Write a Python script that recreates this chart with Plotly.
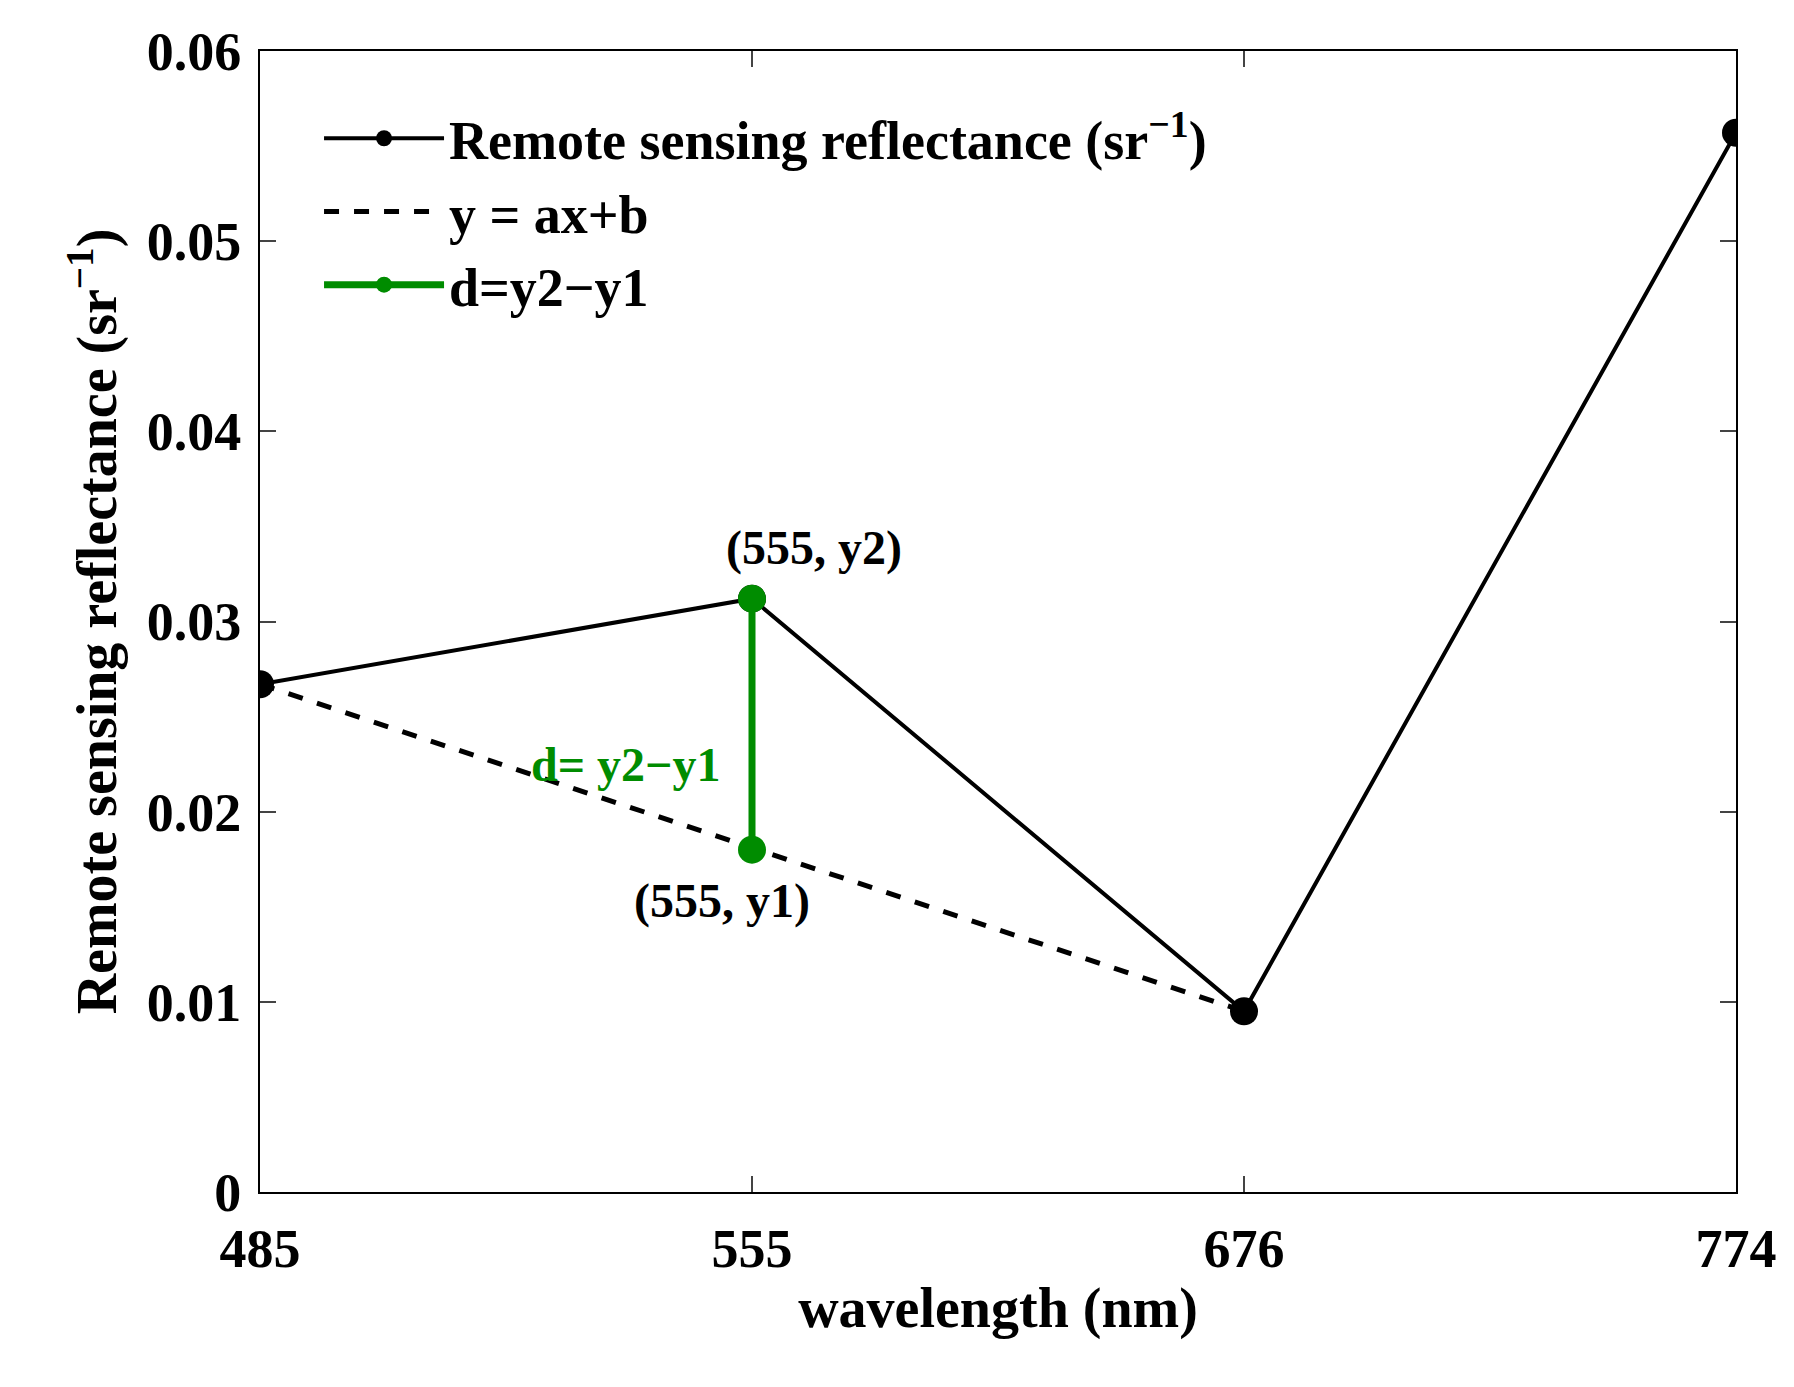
import plotly.graph_objects as go

wavelengths = ["485", "555", "676", "774"]
rrs = [0.0267, 0.0312, 0.0095, 0.0557]
line_x = [0, 2]
line_y = [0.0267, 0.0095]
d_x = [1, 1]
d_y = [0.0312, 0.0180]

xi = list(range(len(wavelengths)))
F = "Liberation Serif"
fig = go.Figure()
fig.add_trace(go.Scatter(x=xi, y=rrs, mode="lines+markers", line=dict(color="black", width=4),
                         marker=dict(size=28, color="black"),
                         name="<b>Remote sensing reflectance (sr<sup>−1</sup>)</b>"))
fig.add_trace(go.Scatter(x=line_x, y=line_y, mode="lines", line=dict(color="black", width=5, dash="dash"),
                         name="<b>y = ax+b</b>"))
fig.add_trace(go.Scatter(x=d_x, y=d_y, mode="lines+markers", line=dict(color="#008C00", width=7),
                         marker=dict(size=28, color="#008C00"), name="<b>d=y2−y1</b>"))
ann = dict(showarrow=False, font=dict(family=F, size=48, color="black"))
fig.add_annotation(x=1, y=d_y[0], text="<b>(555, y2)</b>", xanchor="left", yanchor="bottom", xshift=-28, yshift=22, **ann)
fig.add_annotation(x=1, y=d_y[1], text="<b>(555, y1)</b>", xanchor="right", yanchor="top", xshift=60, yshift=-22, **ann)
fig.add_annotation(x=1, y=0.0225, text="<b>d= y2−y1</b>", xanchor="right", xshift=-30,
                   showarrow=False, font=dict(family=F, size=48, color="#008C00"))
axis = dict(showline=True, linecolor="black", linewidth=2, mirror="ticks", ticks="inside",
            ticklen=16, tickwidth=2, showgrid=False, zeroline=False,
            tickfont=dict(family=F, size=54, color="black"))
fig.update_layout(
    width=1794, height=1387, plot_bgcolor="white", paper_bgcolor="white",
    margin=dict(l=252, r=66, t=43, b=203),
    font=dict(family=F, color="black"),
    xaxis=dict(axis, range=[0, 3], tickvals=xi, ticktext=[f"<b>{w}</b>" for w in wavelengths],
               ticklabelstandoff=8,
               title=dict(text="<b>wavelength (nm)</b>", font=dict(family=F, size=56), standoff=10)),
    yaxis=dict(axis, range=[0, 0.06], tickvals=[0, 0.01, 0.02, 0.03, 0.04, 0.05, 0.06],
               ticktext=["<b>0</b>"] + [f"<b>{v:.2f}</b>" for v in [0.01, 0.02, 0.03, 0.04, 0.05, 0.06]],
               ticklabelstandoff=6,
               title=dict(text="<b>Remote sensing reflectance (sr<sup>−1</sup>)</b>", font=dict(family=F, size=56), standoff=12)),
    legend=dict(x=0.04, y=0.96, xanchor="left", yanchor="top", bgcolor="rgba(0,0,0,0)",
                font=dict(family=F, size=54, color="black"), itemwidth=120, tracegroupgap=0),
)
fig.write_html("out.html")
